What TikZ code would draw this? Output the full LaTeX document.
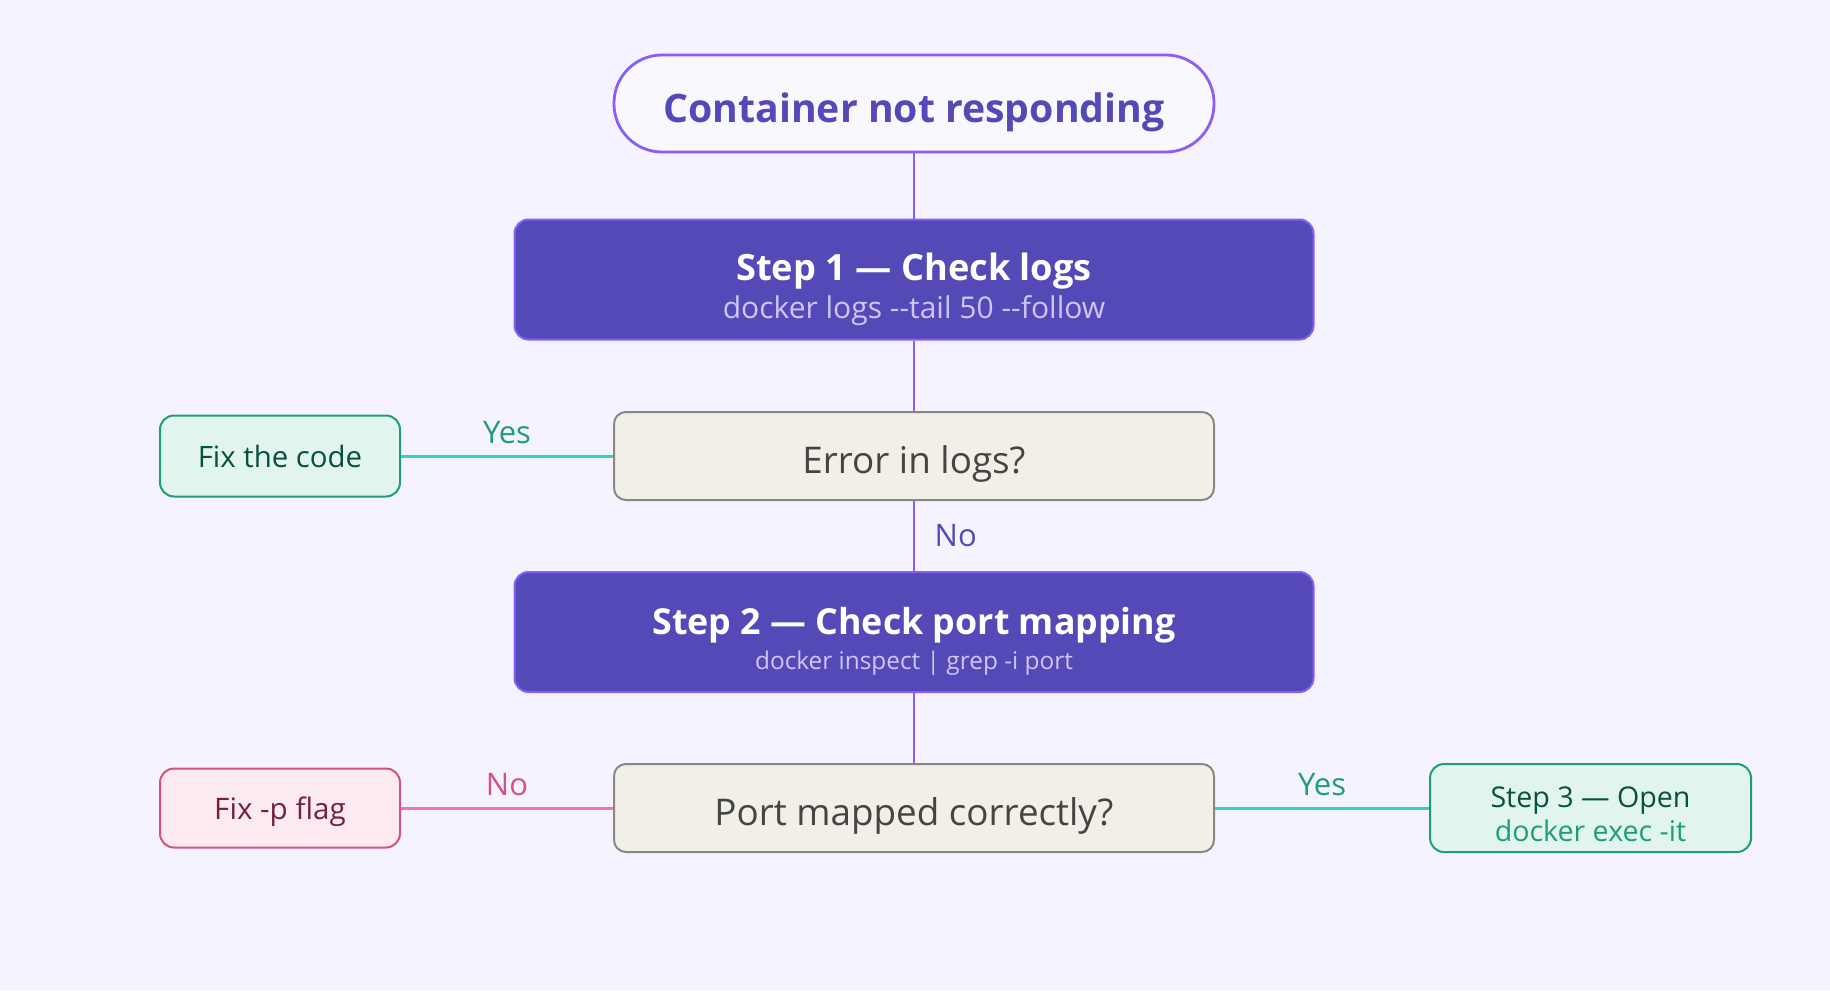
\documentclass[tikz,border=0pt]{standalone}
\usepackage{fontspec}
\setmainfont{Open Sans}
\usepackage{xcolor}
\usepackage{tikz}

\definecolor{bgpage}{HTML}{F5F3FF}
\definecolor{violet}{HTML}{8B5CF6}
\definecolor{indigo}{HTML}{534AB7}
\definecolor{lilac}{HTML}{CBC6F5}
\definecolor{sand}{HTML}{F1EFE8}
\definecolor{stone}{HTML}{888780}
\definecolor{ink}{HTML}{444441}
\definecolor{mint}{HTML}{E1F5EE}
\definecolor{jade}{HTML}{1D9E75}
\definecolor{pine}{HTML}{085041}
\definecolor{teal}{HTML}{2DD4BF}
\definecolor{blush}{HTML}{FBEAF0}
\definecolor{rose}{HTML}{D4537E}
\definecolor{wine}{HTML}{72243E}
\definecolor{pink}{HTML}{F472B6}

\begin{document}
\begin{tikzpicture}[x=0.5pt, y=-0.5pt,
    startbox/.style={rounded corners=24pt, draw=violet, line width=1.4pt, fill=bgpage!60!white,
        minimum width=300pt, minimum height=48.5pt, text=indigo, text height=19pt, text depth=0pt,
        font=\fontsize{19.6}{22}\selectfont\bfseries},
    stepbox/.style={rounded corners=7pt, draw=violet, line width=1pt, fill=indigo,
        minimum width=399.5pt, minimum height=60pt, text=white, align=center, inner ysep=2pt, text depth=0pt},
    askbox/.style={rounded corners=6pt, draw=stone, line width=1pt, fill=sand,
        minimum width=300pt, minimum height=44pt, text=ink, text height=17pt, text depth=0pt,
        font=\fontsize{18.4}{20}\selectfont},
    fixbox/.style={rounded corners=7pt, draw=jade, line width=1pt, fill=mint,
        minimum width=120pt, minimum height=40.5pt, text=pine, text height=11pt, text depth=0pt,
        font=\fontsize{14.7}{17}\selectfont},
    flagbox/.style={rounded corners=7pt, draw=rose, line width=1pt, fill=blush,
        minimum width=120pt, minimum height=39.5pt, text=wine, text height=11pt, text depth=0pt,
        font=\fontsize{14.8}{17}\selectfont},
    label/.style={font=\fontsize{15.5}{17}\selectfont}]
            \useasboundingbox[fill=bgpage] (0,0) rectangle (1830,990);

            % Nodes
            \node[startbox] (start) at (914,103.5) {Container not responding};
            \node[stepbox, text height=39pt, font=\fontsize{15}{18.8}\selectfont] (s1) at (914,279.5)
                {{\fontsize{18.1}{18.8}\selectfont\bfseries Step 1 — Check logs}\\
                {\color{lilac} docker logs -{}-tail 50 -{}-follow}};
            \node[askbox] (err) at (914,456) {Error in logs?};
            \node[fixbox] (code) at (280,456) {Fix the code};
            \node[stepbox, text height=37pt, font=\fontsize{12.2}{17.5}\selectfont] (s2) at (914,632)
                {{\fontsize{17.9}{17.5}\selectfont\bfseries Step 2 — Check port mapping}\\
                {\color{lilac} docker inspect | grep -i port}};
            \node[askbox] (port) at (914,808) {Port mapped correctly?};
            \node[flagbox] (flag) at (280,808) {Fix -p flag};
            \node[fixbox, minimum width=160.5pt, minimum height=44pt, align=center, inner ysep=2pt,
                text height=33.5pt, font=\fontsize{14.3}{17}\selectfont] (s3) at (1590.5,808)
                {Step 3 — Open\\{\color{jade}docker exec -it}};

            % Edges
            \draw[violet, line width=1pt] (start) -- (s1);
            \draw[violet, line width=1pt] (s1) -- (err);
            \draw[violet, line width=1pt] (err) -- (s2) node[midway, right, label, text=indigo, xshift=6.5pt] {No};
            \draw[violet, line width=1pt] (s2) -- (port);
            \draw[teal, line width=1.5pt] (err) -- (code) node[midway, above, label, text=jade, yshift=2pt] {Yes};
            \draw[pink, line width=1.5pt] (port) -- (flag) node[midway, above, label, text=rose, yshift=2pt] {No};
            \draw[teal, line width=1.5pt] (port) -- (s3) node[midway, above, label, text=jade, yshift=2pt] {Yes};
        \end{tikzpicture}
\end{document}
